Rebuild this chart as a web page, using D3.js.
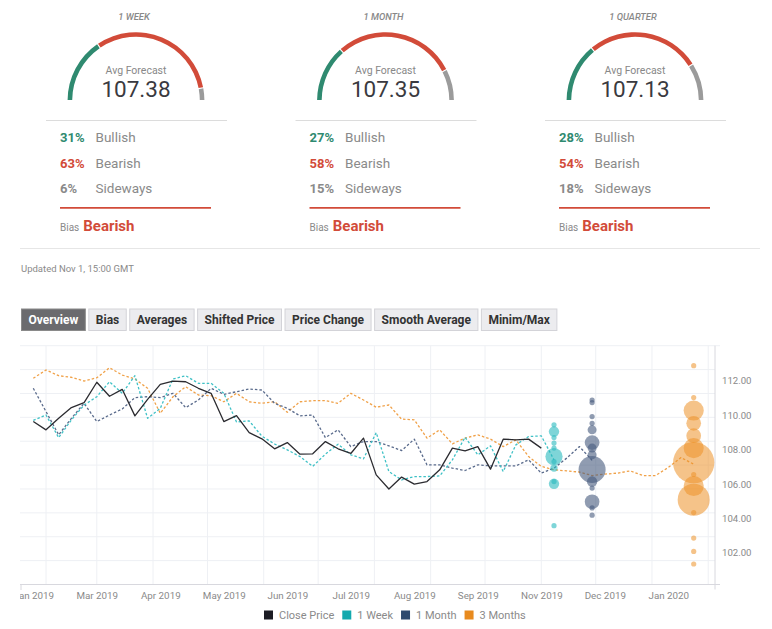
<!DOCTYPE html>
<html>
<head>
<meta charset="utf-8">
<script src="https://cdn.jsdelivr.net/npm/d3@7"></script>
<style>
  html, body { margin: 0; padding: 0; background: #fff; }
  svg { display: block; font-family: Roboto, "Noto Sans", sans-serif; }
</style>
</head>
<body>
<script>
// ---------- DATA ----------
const gaugeTitles = ["1 WEEK", "1 MONTH", "1 QUARTER"];
const avgForecast = [107.38, 107.35, 107.13];
const bullishPct = [31, 27, 28];
const bearishPct = [63, 58, 54];
const sidewaysPct = [6, 15, 18];
const biasLabel = ["Bearish", "Bearish", "Bearish"];
const updatedText = "Updated Nov 1, 15:00 GMT";
const buttons = ["Overview", "Bias", "Averages", "Shifted Price", "Price Change", "Smooth Average", "Minim/Max"];

const firstWeek = "2019-01-25"; // weekly points start here
const closePrice = [109.60, 109.12, 109.79, 110.41, 110.70, 111.88, 111.07, 111.47, 109.93, 110.89,
  111.76, 111.95, 111.91, 111.53, 111.24, 109.60, 109.94, 108.96, 108.60, 108.02,
  108.38, 107.71, 107.73, 108.44, 108.02, 107.75, 108.64, 106.51, 105.69, 106.38,
  105.97, 106.12, 106.80, 108.06, 107.90, 108.15, 106.84, 108.58, 108.54, 108.58, 108.06];
const week1 = [109.67, 109.98, 108.67, 109.70, 110.56, 111.04, 111.91, 111.24, 112.26, 109.79,
  110.37, 112.07, 112.26, 111.82, 111.82, 111.24, 109.58, 109.64, 108.75, 108.30,
  107.96, 107.57, 107.00, 107.71, 108.29, 107.67, 107.44, 108.96, 106.70, 106.22,
  106.41, 106.41, 106.45, 107.38, 108.69, 107.67, 108.19, 106.70, 108.25, 108.73, 108.77, 107.38];
const month1 = [111.53, 110.18, 108.83, 109.79, 110.66, 109.60, 109.98, 110.33, 110.99, 111.04,
  110.99, 111.24, 110.41, 110.85, 111.53, 111.18, 111.33, 111.49, 111.43, 110.66,
  110.37, 109.93, 109.98, 108.67, 109.12, 108.15, 108.44, 108.44, 108.19, 107.92,
  108.58, 107.09, 107.09, 106.90, 106.76, 107.09, 107.03, 107.03, 107.03, 107.38,
  106.61, 106.90, 107.48, 108.15, 107.35];
const month3 = [112.11, 112.59, 112.26, 112.17, 111.95, 112.14, 112.72, 112.30, 112.07, 111.53,
  110.08, 111.04, 111.62, 111.14, 111.10, 110.75, 111.24, 110.75, 110.66, 110.75,
  110.14, 110.75, 110.81, 110.81, 110.66, 111.24, 110.85, 110.43, 110.56, 109.74,
  109.70, 108.64, 109.12, 108.31, 108.64, 108.83, 108.58, 108.15, 108.54, 107.57,
  107.00, 106.80, 106.74, 106.67, 106.47, 106.55, 106.61, 106.74, 106.47, 106.47,
  106.94, 107.51, 107.13];

// forecast distributions (value, number of forecasts)
const week1BubbleDate = "2019-11-08";
const week1BubbleVals = [109.41, 109.02, 108.67, 108.35, 108.06, 107.57, 107.28, 106.90, 106.12, 105.99, 103.56];
const week1BubbleCnt  = [1, 4, 1, 1, 1, 11, 1, 2, 1, 4, 1];
const month1BubbleDate = "2019-11-29";
const month1BubbleVals = [110.85, 110.70, 109.89, 109.50, 109.12, 108.38, 108.06, 107.67, 106.82, 106.12, 105.74, 104.95, 104.59, 104.17];
const month1BubbleCnt  = [1, 1, 1, 1, 3, 8, 3, 3, 27, 4, 1, 8, 1, 1];
const month3BubbleDate = "2020-01-24";
const month3BubbleVals = [112.84, 110.99, 110.24, 109.50, 108.78, 108.06, 107.22, 106.53, 105.86, 105.07, 104.32, 102.84, 102.07, 101.34];
const month3BubbleCnt  = [1, 1, 15, 8, 8, 15, 63, 1, 15, 38, 1, 1, 1, 1];

const yTicks = [102, 104, 106, 108, 110, 112];
const legendNames = ["Close Price", "1 Week", "1 Month", "3 Months"];

// ---------- STYLE ----------
const C = {
  green: "#2f8a70", red: "#d24b39", gray: "#9b9b9b", text: "#888",
  close: "#2b2b30", week: "#3fc1c6", month: "#5a6b8c", q: "#f0a148",
  weekB: "rgba(40,185,190,0.6)", monthB: "rgba(70,90,125,0.6)", qB: "rgba(236,146,40,0.55)",
  legClose: "#1c1c24", legWeek: "#12a9ae", legMonth: "#2e4a6e", legQ: "#e88a1e"
};

const svg = d3.select("body").append("svg").attr("width", 772).attr("height", 629);
const parse = d3.timeParse("%Y-%m-%d");

// ---------- GAUGES ----------
const arc = d3.arc().innerRadius(63.8).outerRadius(68.4);
gaugeTitles.forEach((t, i) => {
  const g = svg.append("g").attr("transform", `translate(${136 + i * 249.5},0)`);
  g.append("text").attr("x", -2).attr("y", 20).attr("text-anchor", "middle")
    .attr("font-size", 9.4).attr("font-style", "italic").attr("font-weight", 500)
    .attr("fill", "#888").text(t);
  const a0 = -Math.PI / 2;
  const a1 = a0 + Math.PI * bullishPct[i] / 100;
  const a2 = a1 + Math.PI * bearishPct[i] / 100;
  const a3 = Math.PI / 2;
  const ag = g.append("g").attr("transform", "translate(0,100.6)");
  [[a0, a1, C.green], [a1, a2, C.red], [a2, a3, C.gray]].forEach(([s, e, c]) => {
    ag.append("path").attr("d", arc({ startAngle: s, endAngle: e, padAngle: 0.012 })).attr("fill", c);
  });
  g.append("text").attr("x", 0).attr("y", 73.5).attr("text-anchor", "middle")
    .attr("font-size", 10.5).attr("fill", "#888").text("Avg Forecast");
  g.append("text").attr("x", 0).attr("y", 96.5).attr("text-anchor", "middle")
    .attr("font-size", 22.5).attr("fill", "#3a3a40").text(avgForecast[i].toFixed(2));
  g.append("line").attr("x1", -90).attr("x2", 91).attr("y1", 120.5).attr("y2", 120.5)
    .attr("stroke", "#dcdcdc").attr("stroke-width", 1);
  const rows = [[bullishPct[i], "Bullish", C.green], [bearishPct[i], "Bearish", C.red], [sidewaysPct[i], "Sideways", "#8a8a8a"]];
  rows.forEach(([p, lab, c], k) => {
    const yb = 141.8 + k * 25.8;
    g.append("text").attr("x", -76).attr("y", yb).attr("font-size", 13).attr("font-weight", 700)
      .attr("fill", c).text(p + "%");
    g.append("text").attr("x", -40.5).attr("y", yb).attr("font-size", 13.5)
      .attr("fill", "#8a8a8a").text(lab);
  });
  g.append("line").attr("x1", -76).attr("x2", 75).attr("y1", 207.8).attr("y2", 207.8)
    .attr("stroke", C.red).attr("stroke-width", 1.8);
  g.append("text").attr("x", -76).attr("y", 230.5).attr("font-size", 10).attr("fill", "#8a8a8a").text("Bias");
  g.append("text").attr("x", -52.8).attr("y", 230.5).attr("font-size", 15).attr("font-weight", 700)
    .attr("fill", C.red).text(biasLabel[i]);
});

svg.append("line").attr("x1", 20).attr("x2", 760).attr("y1", 248.5).attr("y2", 248.5)
  .attr("stroke", "#e6e6e6").attr("stroke-width", 1);
svg.append("text").attr("x", 21).attr("y", 271.5).attr("font-size", 9.5).attr("fill", "#8a8a8a").text(updatedText);

// ---------- BUTTONS ----------
let bx = 21;
buttons.forEach((b, i) => {
  const g = svg.append("g");
  const txt = g.append("text").attr("y", 323.5).attr("font-size", 12).attr("font-weight", 700)
    .attr("fill", i === 0 ? "#fff" : "#333").text(b);
  const w = txt.node().getComputedTextLength() + 14;
  g.insert("rect", "text").attr("x", bx + 0.5).attr("y", 309).attr("width", w).attr("height", 21.5)
    .attr("fill", i === 0 ? "#6b6b6e" : "#ececef").attr("stroke", i === 0 ? "#8a8a8a" : "#d3d3d8");
  txt.attr("x", bx + 7.5);
  bx += w + 3.5;
});

// ---------- CHART ----------
const x = d3.scaleTime().domain([parse("2019-01-25"), parse("2019-11-01")]).range([33.3, 541.3]);
const y = d3.scaleLinear().domain([100.15, 114]).range([584.5, 345.7]);
const gridY = d3.scaleLinear().domain([0, 10]).range([584.5, 345.7]);
const L = 20, R = 715, T = 345.7, B = 584.5;

const grid = svg.append("g");
d3.range(1, 11).forEach(k => {
  grid.append("line").attr("x1", L).attr("x2", k === 10 ? 720 : R)
    .attr("y1", gridY(k)).attr("y2", gridY(k)).attr("stroke", "#eef0f4").attr("stroke-width", 1);
});
d3.timeMonth.range(parse("2019-02-01"), parse("2020-02-02")).forEach(d => {
  grid.append("line").attr("x1", x(d)).attr("x2", x(d)).attr("y1", T).attr("y2", B)
    .attr("stroke", "#eef0f4").attr("stroke-width", 1);
});

// axes
svg.append("line").attr("x1", L).attr("x2", 720).attr("y1", B).attr("y2", B).attr("stroke", "#d8d8de");
svg.append("line").attr("x1", R).attr("x2", R).attr("y1", T).attr("y2", 589.5).attr("stroke", "#d8d8de");
svg.append("line").attr("x1", L + 1).attr("x2", L + 1).attr("y1", B).attr("y2", 590).attr("stroke", "#d8d8de");

const yAxis = svg.append("g").attr("transform", `translate(${R},0)`)
  .call(d3.axisRight(y).tickValues(yTicks).tickFormat(d3.format(".2f")).tickSize(0).tickPadding(7));
yAxis.select(".domain").remove();
yAxis.selectAll("text").attr("font-size", 9.6).attr("fill", "#8a8a8a").attr("font-family", "Roboto, sans-serif").attr("dy", "0.35em");

svg.append("clipPath").attr("id", "xclip").append("rect").attr("x", 20).attr("y", 585).attr("width", 752).attr("height", 30);
const start = parse(firstWeek);
const xTickVals = d3.range(11).map(k => d3.timeDay.offset(start, 35 * k));
const xWrap = svg.append("g").attr("clip-path", "url(#xclip)");
const xAxis = xWrap.append("g").attr("transform", `translate(0,${B})`)
  .call(d3.axisBottom(x).tickValues(xTickVals).tickFormat(d3.timeFormat("%b %Y")).tickSize(0).tickPadding(8));
xAxis.select(".domain").remove();
xAxis.selectAll("text").attr("font-size", 9.8).attr("fill", "#8a8a8a").attr("font-family", "Roboto, sans-serif");

// lines
const toPts = arr => arr.map((v, k) => ({ d: d3.timeDay.offset(start, 7 * k), v }));
const line = d3.line().x(p => x(p.d)).y(p => y(p.v));
const series = [
  [month3, C.q, "2.5,2"], [month1, C.month, "2.5,2"], [week1, C.week, "2.5,2"], [closePrice, C.close, null]
];
series.forEach(([arr, col, dash]) => {
  const p = svg.append("path").attr("d", line(toPts(arr))).attr("fill", "none")
    .attr("stroke", col).attr("stroke-width", dash ? 1.3 : 1.3).attr("stroke-linejoin", "round");
  if (dash) p.attr("stroke-dasharray", dash);
});

// bubbles
const rScale = d3.scaleSqrt().domain([0, 1]).range([0, 2.6]).clamp(false);
const bubbleSets = [
  [month3BubbleDate, month3BubbleVals, month3BubbleCnt, C.qB],
  [month1BubbleDate, month1BubbleVals, month1BubbleCnt, C.monthB],
  [week1BubbleDate, week1BubbleVals, week1BubbleCnt, C.weekB]
];
bubbleSets.forEach(([ds, vals, cnt, col]) => {
  const cx = x(parse(ds));
  svg.append("g").selectAll("circle").data(vals).join("circle")
    .attr("cx", cx).attr("cy", v => y(v)).attr("r", (v, k) => rScale(cnt[k])).attr("fill", col);
});

// legend
const legCols = [C.legClose, C.legWeek, C.legMonth, C.legQ];
let lx = 264;
legendNames.forEach((n, i) => {
  svg.append("rect").attr("x", lx).attr("y", 610.5).attr("width", 9).attr("height", 9).attr("fill", legCols[i]);
  const t = svg.append("text").attr("x", lx + 15).attr("y", 619).attr("font-size", 11).attr("fill", "#8a8a8a").text(n);
  lx += 15 + t.node().getComputedTextLength() + 8;
});
</script>
</body>
</html>
